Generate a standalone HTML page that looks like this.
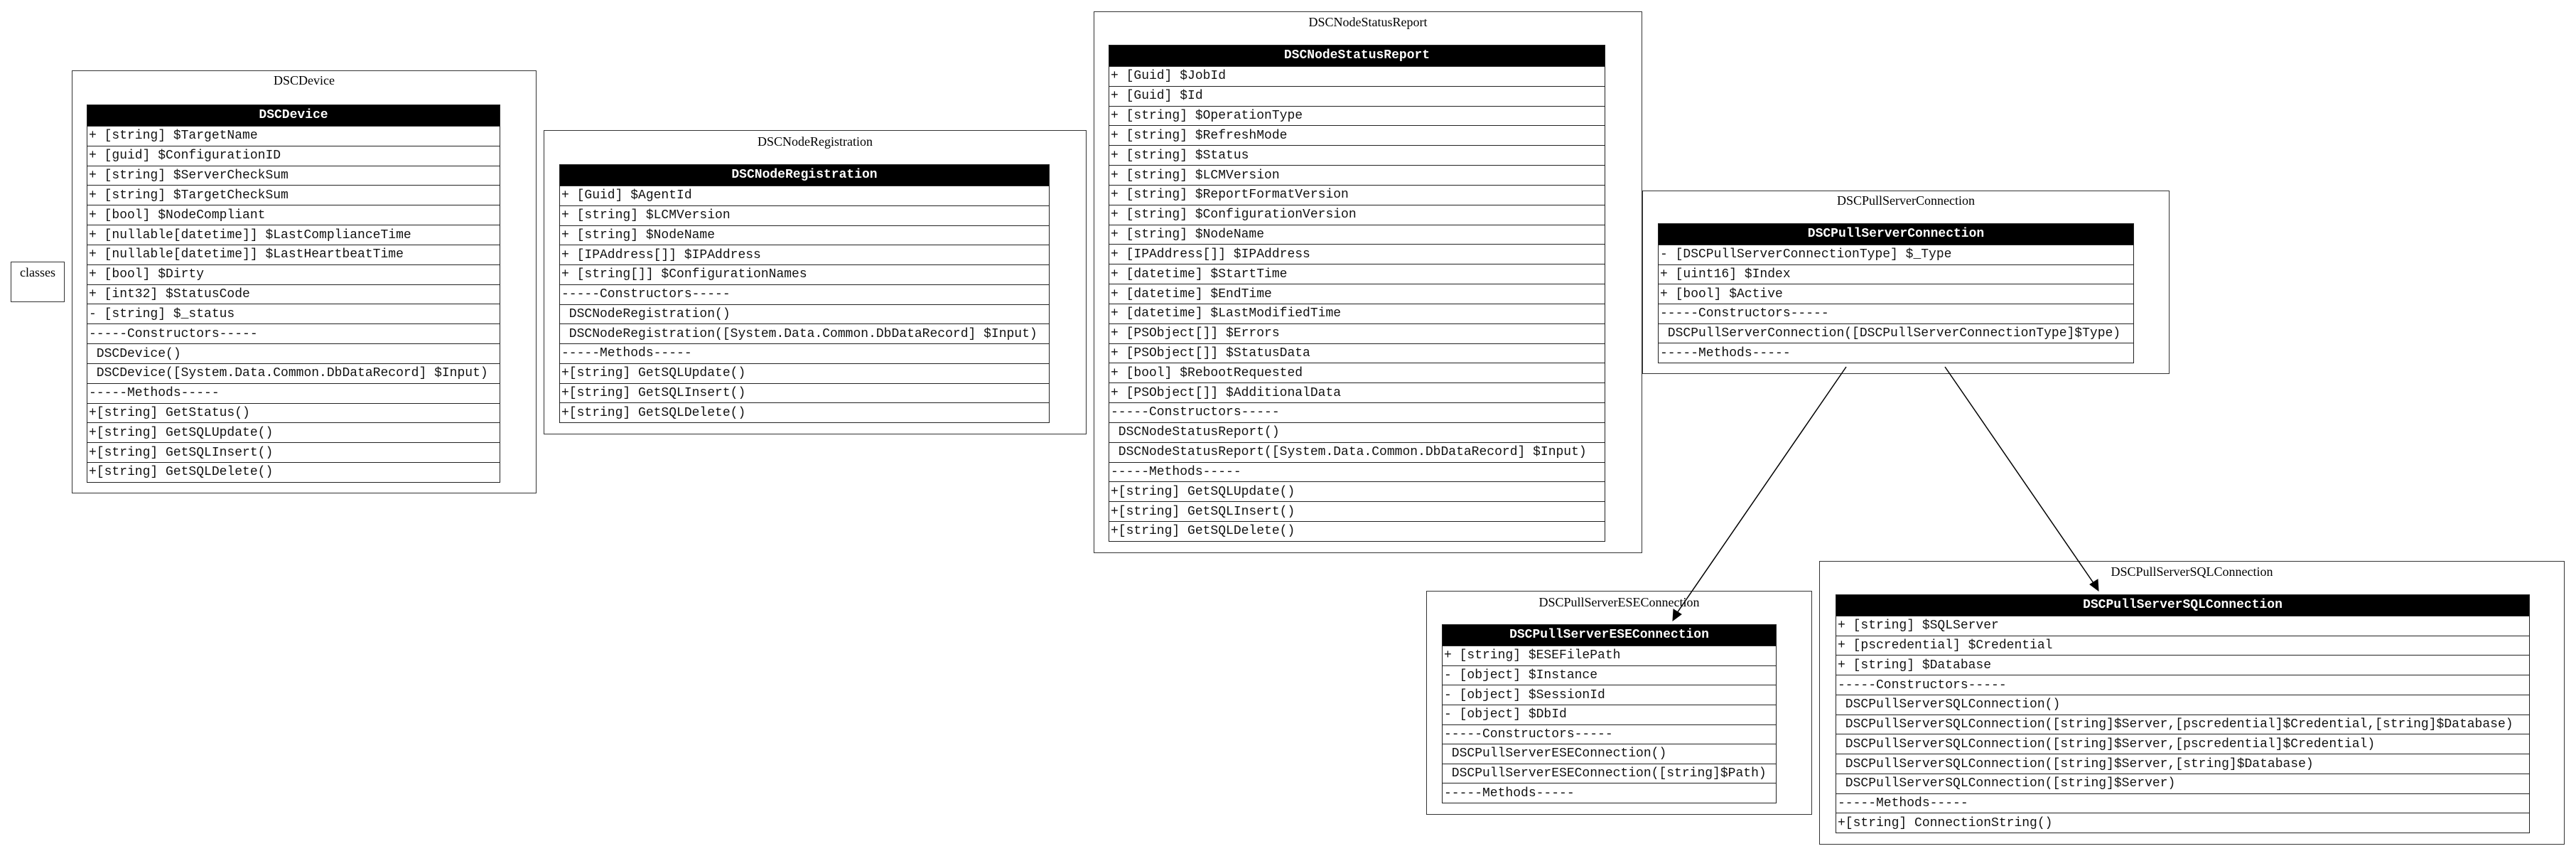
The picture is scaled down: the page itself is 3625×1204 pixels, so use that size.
<!DOCTYPE html>
<html><head><meta charset="utf-8">
<style>
body{margin:0;width:3625px;height:1204px;background:#fff;position:relative;overflow:hidden;}
.cl{position:absolute;border:1.5px solid #333;box-sizing:border-box;}
.cl .t{position:absolute;left:0;right:0;text-align:center;font-family:"Liberation Serif",serif;font-size:18px;color:#000;}
.tb{position:absolute;border:1.5px solid #222;box-sizing:border-box;display:flex;flex-direction:column;background:#fff;}
.tb .h{flex:0 0 29px;background:#000;color:#fff;font-family:"Liberation Mono",monospace;font-weight:bold;font-size:18px;text-align:center;line-height:29px;}
.tb .r{flex:1 1 0;border-top:1.5px solid #222;font-family:"Liberation Mono",monospace;font-size:18px;white-space:pre;padding-left:2px;display:flex;align-items:center;color:#111;}
</style></head><body>

<div class="cl" style="left:15px;top:368px;width:76px;height:57px;"><div class="t" style="top:4px;">classes</div></div>

<div class="cl" style="left:101px;top:99px;width:654px;height:595px;"><div class="t" style="top:3px;">DSCDevice</div></div>
<div class="tb" style="left:122px;top:147px;width:582px;height:532px;">
<div class="h">DSCDevice</div>
<div class="r">+ [string] $TargetName</div>
<div class="r">+ [guid] $ConfigurationID</div>
<div class="r">+ [string] $ServerCheckSum</div>
<div class="r">+ [string] $TargetCheckSum</div>
<div class="r">+ [bool] $NodeCompliant</div>
<div class="r">+ [nullable[datetime]] $LastComplianceTime</div>
<div class="r">+ [nullable[datetime]] $LastHeartbeatTime</div>
<div class="r">+ [bool] $Dirty</div>
<div class="r">+ [int32] $StatusCode</div>
<div class="r">- [string] $_status</div>
<div class="r">-----Constructors-----</div>
<div class="r"> DSCDevice()</div>
<div class="r"> DSCDevice([System.Data.Common.DbDataRecord] $Input)</div>
<div class="r">-----Methods-----</div>
<div class="r">+[string] GetStatus()</div>
<div class="r">+[string] GetSQLUpdate()</div>
<div class="r">+[string] GetSQLInsert()</div>
<div class="r">+[string] GetSQLDelete()</div>
</div>

<div class="cl" style="left:765px;top:183px;width:764px;height:428px;"><div class="t" style="top:5px;">DSCNodeRegistration</div></div>
<div class="tb" style="left:787px;top:231px;width:690px;height:364px;">
<div class="h">DSCNodeRegistration</div>
<div class="r">+ [Guid] $AgentId</div>
<div class="r">+ [string] $LCMVersion</div>
<div class="r">+ [string] $NodeName</div>
<div class="r">+ [IPAddress[]] $IPAddress</div>
<div class="r">+ [string[]] $ConfigurationNames</div>
<div class="r">-----Constructors-----</div>
<div class="r"> DSCNodeRegistration()</div>
<div class="r"> DSCNodeRegistration([System.Data.Common.DbDataRecord] $Input)</div>
<div class="r">-----Methods-----</div>
<div class="r">+[string] GetSQLUpdate()</div>
<div class="r">+[string] GetSQLInsert()</div>
<div class="r">+[string] GetSQLDelete()</div>
</div>

<div class="cl" style="left:1539px;top:16px;width:772px;height:762px;"><div class="t" style="top:4px;">DSCNodeStatusReport</div></div>
<div class="tb" style="left:1560px;top:63px;width:699px;height:699px;">
<div class="h">DSCNodeStatusReport</div>
<div class="r">+ [Guid] $JobId</div>
<div class="r">+ [Guid] $Id</div>
<div class="r">+ [string] $OperationType</div>
<div class="r">+ [string] $RefreshMode</div>
<div class="r">+ [string] $Status</div>
<div class="r">+ [string] $LCMVersion</div>
<div class="r">+ [string] $ReportFormatVersion</div>
<div class="r">+ [string] $ConfigurationVersion</div>
<div class="r">+ [string] $NodeName</div>
<div class="r">+ [IPAddress[]] $IPAddress</div>
<div class="r">+ [datetime] $StartTime</div>
<div class="r">+ [datetime] $EndTime</div>
<div class="r">+ [datetime] $LastModifiedTime</div>
<div class="r">+ [PSObject[]] $Errors</div>
<div class="r">+ [PSObject[]] $StatusData</div>
<div class="r">+ [bool] $RebootRequested</div>
<div class="r">+ [PSObject[]] $AdditionalData</div>
<div class="r">-----Constructors-----</div>
<div class="r"> DSCNodeStatusReport()</div>
<div class="r"> DSCNodeStatusReport([System.Data.Common.DbDataRecord] $Input)</div>
<div class="r">-----Methods-----</div>
<div class="r">+[string] GetSQLUpdate()</div>
<div class="r">+[string] GetSQLInsert()</div>
<div class="r">+[string] GetSQLDelete()</div>
</div>

<div class="cl" style="left:2311px;top:268px;width:742px;height:258px;"><div class="t" style="top:3px;">DSCPullServerConnection</div></div>
<div class="tb" style="left:2333px;top:314px;width:670px;height:197px;">
<div class="h">DSCPullServerConnection</div>
<div class="r">- [DSCPullServerConnectionType] $_Type</div>
<div class="r">+ [uint16] $Index</div>
<div class="r">+ [bool] $Active</div>
<div class="r">-----Constructors-----</div>
<div class="r"> DSCPullServerConnection([DSCPullServerConnectionType]$Type)</div>
<div class="r">-----Methods-----</div>
</div>

<div class="cl" style="left:2007px;top:831px;width:543px;height:315px;"><div class="t" style="top:5px;">DSCPullServerESEConnection</div></div>
<div class="tb" style="left:2029px;top:878px;width:471px;height:252px;">
<div class="h">DSCPullServerESEConnection</div>
<div class="r">+ [string] $ESEFilePath</div>
<div class="r">- [object] $Instance</div>
<div class="r">- [object] $SessionId</div>
<div class="r">- [object] $DbId</div>
<div class="r">-----Constructors-----</div>
<div class="r"> DSCPullServerESEConnection()</div>
<div class="r"> DSCPullServerESEConnection([string]$Path)</div>
<div class="r">-----Methods-----</div>
</div>

<div class="cl" style="left:2560px;top:789px;width:1049px;height:399px;"><div class="t" style="top:4px;">DSCPullServerSQLConnection</div></div>
<div class="tb" style="left:2583px;top:836px;width:977px;height:336px;">
<div class="h">DSCPullServerSQLConnection</div>
<div class="r">+ [string] $SQLServer</div>
<div class="r">+ [pscredential] $Credential</div>
<div class="r">+ [string] $Database</div>
<div class="r">-----Constructors-----</div>
<div class="r"> DSCPullServerSQLConnection()</div>
<div class="r"> DSCPullServerSQLConnection([string]$Server,[pscredential]$Credential,[string]$Database)</div>
<div class="r"> DSCPullServerSQLConnection([string]$Server,[pscredential]$Credential)</div>
<div class="r"> DSCPullServerSQLConnection([string]$Server,[string]$Database)</div>
<div class="r"> DSCPullServerSQLConnection([string]$Server)</div>
<div class="r">-----Methods-----</div>
<div class="r">+[string] ConnectionString()</div>
</div>

<svg style="position:absolute;left:0;top:0" width="3625" height="1204">
<line x1="2598" y1="516" x2="2360" y2="862" stroke="#000" stroke-width="1.5"/>
<polygon points="2354,873 2355,857 2366,864" fill="#000" stroke="#000"/>
<line x1="2737" y1="516" x2="2946" y2="820" stroke="#000" stroke-width="1.5"/>
<polygon points="2953,831 2941,822 2952,815" fill="#000" stroke="#000"/>
</svg>
</body></html>
